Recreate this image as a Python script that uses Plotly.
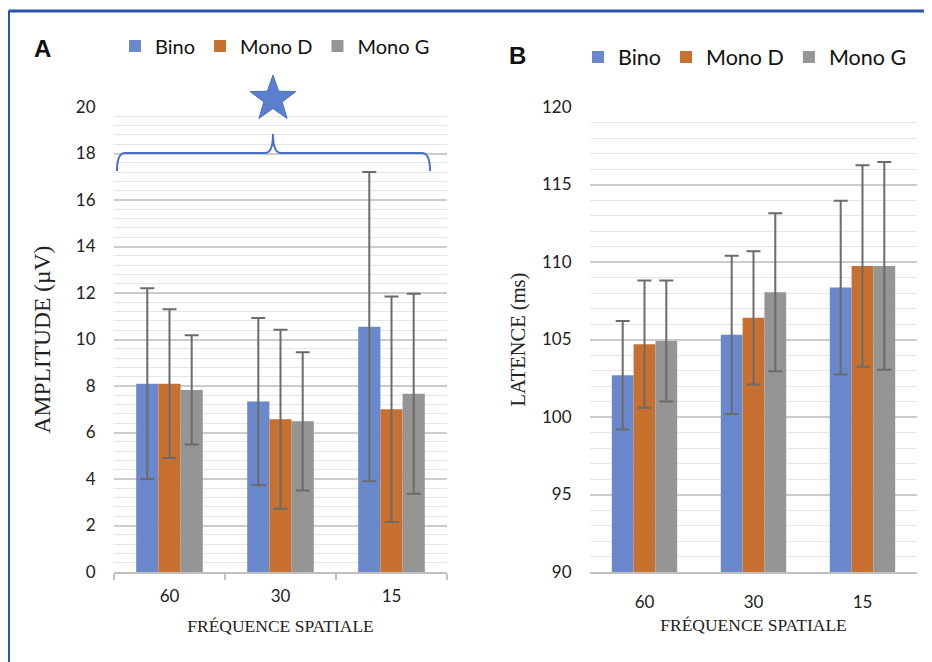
import math
import plotly.graph_objects as go

W, H = 932, 662
# The page body adds an 8px offset; positions below are target screen pixels.
OX, OY = 8, 8

categories = ["60", "30", "15"]
series_names = ["Bino", "Mono D", "Mono G"]
colors = ["#6A88CC", "#C8702F", "#959595"]

# Panel A: amplitude (µV)
amp_bino = [8.1, 7.33, 10.55]
amp_mono_d = [8.1, 6.57, 7.0]
amp_mono_g = [7.83, 6.48, 7.67]
amp_err_bino = [4.1, 3.6, 6.65]
amp_err_mono_d = [3.2, 3.85, 4.85]
amp_err_mono_g = [2.35, 2.97, 4.3]

# Panel B: latency (ms)
lat_bino = [102.7, 105.3, 108.35]
lat_mono_d = [104.7, 106.4, 109.75]
lat_mono_g = [104.9, 108.05, 109.75]
lat_err_bino = [3.5, 5.1, 5.6]
lat_err_mono_d = [4.1, 4.3, 6.5]
lat_err_mono_g = [3.9, 5.1, 6.7]

amp_vals = [amp_bino, amp_mono_d, amp_mono_g]
amp_errs = [amp_err_bino, amp_err_mono_d, amp_err_mono_g]
lat_vals = [lat_bino, lat_mono_d, lat_mono_g]
lat_errs = [lat_err_bino, lat_err_mono_d, lat_err_mono_g]


def px(x):
    return (x - OX) / W


def py(y):
    return 1 - (y - OY) / H


fig = go.Figure()

for name, col, v, e in zip(series_names, colors, amp_vals, amp_errs):
    fig.add_trace(go.Bar(
        x=categories, y=v, name=name, marker_color=col, marker_line_width=0,
        error_y=dict(type="data", array=e, visible=True, color="#6B6B6B", thickness=2, width=7),
        xaxis="x", yaxis="y", legend="legend",
    ))

for name, col, v, e in zip(series_names, colors, lat_vals, lat_errs):
    fig.add_trace(go.Bar(
        x=categories, y=v, name=name, marker_color=col, marker_line_width=0,
        error_y=dict(type="data", array=e, visible=True, color="#6B6B6B", thickness=2, width=7),
        xaxis="x2", yaxis="y2", legend="legend2",
    ))

sans = "Lato, 'Open Sans', sans-serif"
serif = "'Liberation Serif', 'Times New Roman', serif"
tick_font = dict(family=sans, size=17, color="#222222")
xtitle_font = dict(family=serif, size=17.5, color="#222222")

ydom = [py(572), py(107)]

fig.update_layout(
    width=W, height=H,
    margin=dict(l=0, r=0, t=0, b=0, autoexpand=False),
    paper_bgcolor="white", plot_bgcolor="white",
    barmode="group", bargap=0.4, bargroupgap=0,
    xaxis=dict(domain=[px(114), px(447)], anchor="y", type="category", automargin=False,
               showline=True, linecolor="#BFBFBF", linewidth=1.5,
               ticks="outside", tickson="boundaries", ticklen=6, tickcolor="#BFBFBF", tickwidth=1.5,
               ticklabelstandoff=8,
               tickfont=tick_font,
               title=dict(text="FRÉQUENCE SPATIALE", font=xtitle_font, standoff=15),
               showgrid=False),
    yaxis=dict(domain=ydom, anchor="x", range=[0, 20], dtick=2, automargin=False,
               showgrid=True, gridcolor="#CCCCCC", gridwidth=1.5,
               minor=dict(dtick=0.4, showgrid=True, gridcolor="#E6E6E6", gridwidth=1),
               zeroline=False, showline=False,
               ticks="outside", ticklen=14, tickcolor="rgba(0,0,0,0)",
               tickfont=tick_font,
               title=dict(text="AMPLITUDE (µV)", font=dict(family=serif, size=23.5, color="#222222"), standoff=18)),
    xaxis2=dict(domain=[px(590), px(917)], anchor="y2", type="category", automargin=False,
                showline=True, linecolor="#BFBFBF", linewidth=1.5,
                ticks="", ticklabelstandoff=14,
                tickfont=tick_font,
                title=dict(text="FRÉQUENCE SPATIALE", font=xtitle_font, standoff=8),
                showgrid=False),
    yaxis2=dict(domain=ydom, anchor="x2", range=[90, 120], dtick=5, automargin=False,
                showgrid=True, gridcolor="#CCCCCC", gridwidth=1.5,
                minor=dict(dtick=1, showgrid=True, gridcolor="#E6E6E6", gridwidth=1),
                zeroline=False, showline=False,
                ticks="outside", ticklen=14, tickcolor="rgba(0,0,0,0)",
                tickfont=tick_font,
                title=dict(text="LATENCE (ms)", font=dict(family=serif, size=20.5, color="#222222"), standoff=10)),
    legend=dict(orientation="h", x=px(115), y=py(46), xanchor="left", yanchor="middle",
                font=dict(family=sans, size=20, color="#111111"),
                bgcolor="rgba(0,0,0,0)", itemclick=False),
    legend2=dict(orientation="h", x=px(578), y=py(57), xanchor="left", yanchor="middle",
                 font=dict(family=sans, size=21.5, color="#111111"),
                 bgcolor="rgba(0,0,0,0)", itemclick=False),
    showlegend=True,
)

# Panel letters
fig.add_annotation(text="<b>A</b>", x=px(42), y=py(49), xref="paper", yref="paper",
                   xanchor="center", yanchor="middle", showarrow=False,
                   font=dict(family="'Liberation Sans', Arial, sans-serif", size=24, color="#111111"))
fig.add_annotation(text="<b>B</b>", x=px(517), y=py(55), xref="paper", yref="paper",
                   xanchor="center", yanchor="middle", showarrow=False,
                   font=dict(family="'Liberation Sans', Arial, sans-serif", size=24, color="#111111"))


def path_from_px(cmds):
    out = []
    for c in cmds:
        if isinstance(c, str):
            out.append(c)
        else:
            out.append(f"{px(c[0]):.5f},{py(c[1]):.5f}")
    return " ".join(out)


# Significance brace
brace = path_from_px([
    "M", (117, 171), "Q", (117, 153), (125, 153), "L", (265, 153),
    "Q", (273, 153), (273, 134), "Q", (273, 153), (281, 153),
    "L", (422, 153), "Q", (430, 153), (430, 171),
])
fig.add_shape(type="path", path=brace, xref="paper", yref="paper",
              line=dict(color="#4A72C4", width=2))

# Significance star
cx, cy, R, r = 273, 99, 24, 9.6
pts = []
for i in range(10):
    ang = -math.pi / 2 + i * math.pi / 5
    rad = R if i % 2 == 0 else r
    pts.append((cx + rad * math.cos(ang), cy + rad * math.sin(ang)))
star_cmds = ["M", pts[0]]
for p in pts[1:]:
    star_cmds += ["L", p]
star_cmds.append("Z")
fig.add_shape(type="path", path=path_from_px(star_cmds), xref="paper", yref="paper",
              fillcolor="#5B7FCF", line=dict(color="#4A6FC0", width=1))

# Frame lines (top and left)
fig.add_shape(type="line", xref="paper", yref="paper", x0=px(8.5), x1=px(940), y0=py(11), y1=py(11),
              line=dict(color="#2B55A8", width=3))
fig.add_shape(type="line", xref="paper", yref="paper", x0=px(8.5), x1=px(8.5), y0=py(11), y1=py(670),
              line=dict(color="#2B55A8", width=3))

fig.write_html("out.html")
